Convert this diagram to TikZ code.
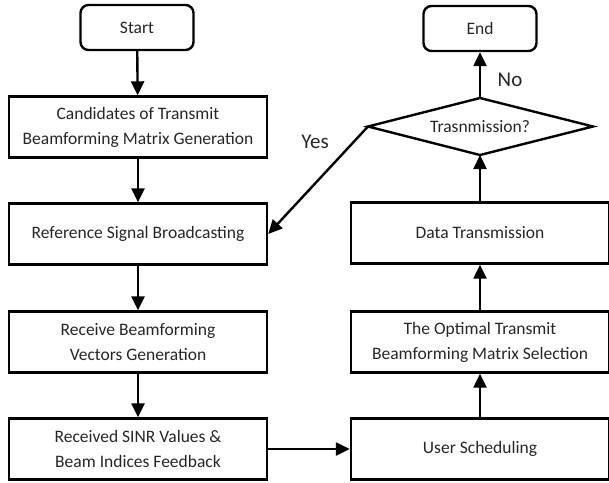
\documentclass[tikz,border=0pt]{standalone}
\usepackage{fontspec}
\setmainfont{Carlito}
\usetikzlibrary{arrows.meta}
\begin{document}
\begin{tikzpicture}[x=1pt,y=-1pt,
  every node/.style={font=\fontsize{17.5}{25}\selectfont, text=black!85, align=center, inner sep=0pt},
  proc/.style={draw=black, line width=2.4pt, minimum width=258pt, minimum height=61pt},
  term/.style={draw=black, line width=2.4pt, rounded corners=8pt, minimum width=113pt, minimum height=45pt},
  decis/.style={draw=black, line width=2.4pt, line join=miter},
  lbl/.style={font=\fontsize{21}{25}\selectfont, text=black!85},
  flow/.style={line width=2.4pt, -{Triangle[length=14pt,width=13pt]}}
]
\useasboundingbox (0,0) rectangle (609,482);
\node[term] (start) at (137,27.5) {Start};
\node[proc] (b1) at (138,127) {Candidates of Transmit\\Beamforming Matrix Generation};
\node[proc] (b2) at (138,234) {Reference Signal Broadcasting};
\node[proc] (b3) at (138,342) {Receive Beamforming\\Vectors Generation};
\node[proc] (b4) at (138,449) {Received SINR Values \&\\Beam Indices Feedback};
\node[term] (end) at (480,28.5) {End};
\coordinate (dtop) at (480,98);
\coordinate (dright) at (593,126.5);
\coordinate (dbot) at (480,155);
\coordinate (dleft) at (368,126.5);
\draw[decis] (dtop) -- (dright) -- (dbot) -- (dleft) -- cycle;
\node (dec) at (480,127) {Trasnmission?};
\node[proc] (r1) at (480,233) {Data Transmission};
\node[proc] (r2) at (480,342) {The Optimal Transmit\\Beamforming Matrix Selection};
\node[proc] (r3) at (480,449) {User Scheduling};
\draw[flow] (start) -- (b1);
\draw[flow] (b1) -- (b2);
\draw[flow] (b2) -- (b3);
\draw[flow] (b3) -- (b4);
\draw[flow] (b4) -- (r3);
\draw[flow] (r3) -- (r2);
\draw[flow] (r2) -- (r1);
\draw[flow] (r1.north) -- (dbot);
\draw[flow] (dtop) -- (end.south);
\draw[flow] (dleft) -- (b2.east);
\node[lbl] (yes) at (315,142) {Yes};
\node[lbl] (no) at (510,80) {No};
\end{tikzpicture}
\end{document}
